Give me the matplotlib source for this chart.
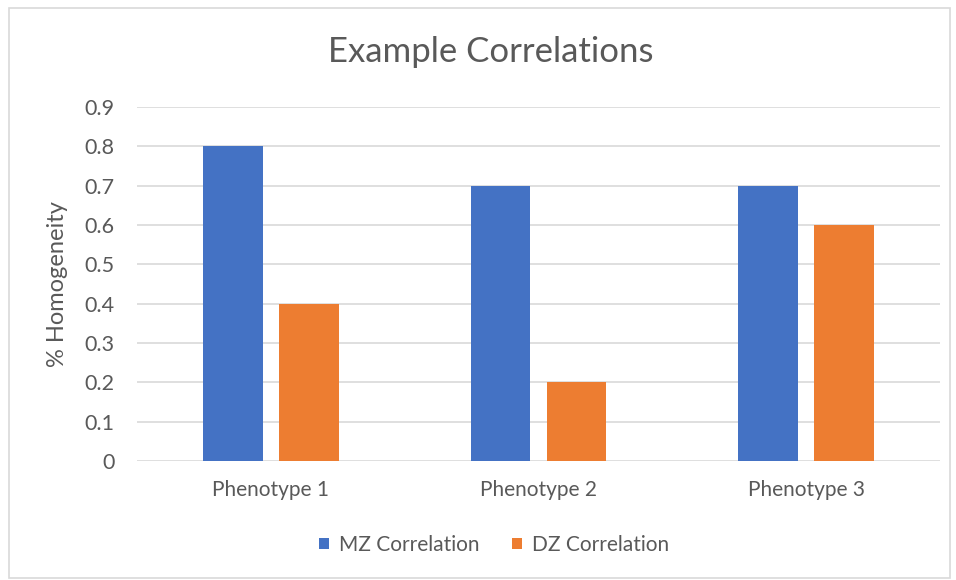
import numpy as np
import matplotlib.pyplot as plt
from matplotlib.patches import Rectangle

categories = ['Phenotype 1', 'Phenotype 2', 'Phenotype 3']
mz_values = [0.8, 0.7, 0.7]
dz_values = [0.4, 0.2, 0.6]
yticks = [0, 0.1, 0.2, 0.3, 0.4, 0.5, 0.6, 0.7, 0.8, 0.9]

text_color = '#595959'
plt.rcParams['font.family'] = ['Lato', 'DejaVu Sans']

fig = plt.figure(figsize=(9.56, 5.8), dpi=100)
fig.patches.append(Rectangle((9 / 956, 2 / 580), 941 / 956, 570 / 580, transform=fig.transFigure,
                             fill=False, edgecolor='#D9D9D9', linewidth=1.2))

ax = fig.add_axes([137 / 956, 1 - 461 / 580, 803 / 956, 354 / 580])
x = np.arange(len(categories))
w = 0.224
ax.bar(x - 0.142, mz_values, w, color='#4472C4', label='MZ Correlation', zorder=3)
ax.bar(x + 0.142, dz_values, w, color='#ED7D31', label='DZ Correlation', zorder=3)

ax.set_xlim(-0.5, 2.5)
ax.set_ylim(0, 0.9)
ax.set_yticks(yticks)
ax.set_yticklabels(['0' if v == 0 else f'{v:.1f}' for v in yticks])
ax.set_xticks(x)
ax.set_xticklabels(categories)
ax.tick_params(length=0, colors=text_color)
ax.tick_params(axis='x', labelsize=15, pad=14)
ax.tick_params(axis='y', labelsize=15.5, pad=16)
ax.grid(axis='y', color='#D9D9D9', linewidth=1.2, zorder=0)
for s in ax.spines.values():
    s.set_visible(False)

ax.set_ylabel('% Homogeneity', color=text_color, fontsize=17, labelpad=12)
fig.text(491 / 956, 1 - 52 / 580, 'Example Correlations', ha='center', va='center',
         fontsize=25, color=text_color)

fig.legend(loc='center', bbox_to_anchor=(494 / 956, 1 - 545 / 580), ncol=2, frameon=False,
           fontsize=15, labelcolor=text_color, handlelength=0.48, handleheight=0.48,
           columnspacing=1.6, handletextpad=0.45)

fig.savefig('out.png', dpi=100, facecolor='white')
